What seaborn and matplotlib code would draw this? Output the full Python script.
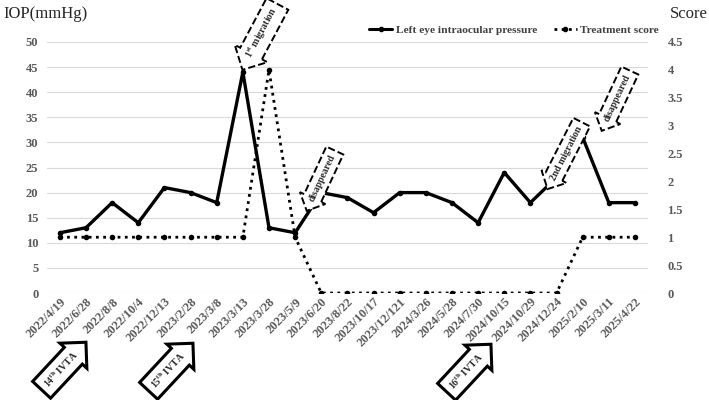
import numpy as np
import pandas as pd
import matplotlib
matplotlib.use("Agg")
import matplotlib.pyplot as plt
import seaborn as sns
from matplotlib.lines import Line2D

dates = ["2022/4/19", "2022/6/28", "2022/8/8", "2022/10/4", "2022/12/13", "2023/2/28",
         "2023/3/8", "2023/3/13", "2023/3/28", "2023/5/9", "2023/6/20", "2023/8/22",
         "2023/10/17", "2023/12/121", "2024/3/26", "2024/5/28", "2024/7/30", "2024/10/15",
         "2024/10/29", "2024/12/24", "2025/2/10", "2025/3/11", "2025/4/22"]
iop = [12, 13, 18, 14, 21, 20, 18, 44, 13, 12, 20, 19, 16, 20, 20, 18, 14, 24, 18, 23, 31, 18, 18]
score = [1, 1, 1, 1, 1, 1, 1, 1, 4, 1, 0, 0, 0, 0, 0, 0, 0, 0, 0, 0, 1, 1, 1]

df = pd.DataFrame({"idx": np.arange(len(dates)), "date": dates, "iop": iop, "score": score})

sns.set_theme(style="whitegrid")
plt.rcParams["font.family"] = ["Liberation Serif", "DejaVu Serif"]
plt.rcParams["mathtext.fontset"] = "stix"

fig = plt.figure(figsize=(7.09, 4.0), dpi=100)
ax = fig.add_axes([0.066, 0.2675, 0.848, 0.6275])
ax2 = ax.twinx()

sns.lineplot(data=df, x="idx", y="iop", ax=ax, color="black", lw=2.4,
             marker="o", markersize=4, markeredgewidth=0)
sns.lineplot(data=df, x="idx", y="score", ax=ax2, color="black", lw=2.0,
             linestyle=(0, (1, 1.6)), marker="o", markersize=4, markeredgewidth=0)

grey = "#595959"
ax.set_xlim(-0.5, len(dates) - 0.5)
ax.set_ylim(0, 50)
ax2.set_ylim(0, 4.5)
ax.set_yticks(np.arange(0, 51, 5))
ax2.set_yticks(np.arange(0, 4.6, 0.5))
ax2.set_yticklabels(["0", "0.5", "1", "1.5", "2", "2.5", "3", "3.5", "4", "4.5"])
ax.set_xticks(df["idx"])
ax.set_xticklabels(dates, rotation=45, ha="right", rotation_mode="anchor")
ax.grid(axis="x", visible=False)
ax.grid(axis="y", color="#d9d9d9", lw=0.8)
ax2.grid(False)
for a in (ax, ax2):
    a.set_xlabel("")
    a.set_ylabel("")
    for s in a.spines.values():
        s.set_visible(False)
    a.tick_params(axis="both", length=0, labelsize=9, labelcolor=grey, pad=4)
    for lab in a.get_xticklabels() + a.get_yticklabels():
        lab.set_fontweight("bold")
ax.tick_params(axis="x", pad=2)
ax.tick_params(axis="y", pad=6)
ax2.tick_params(axis="y", pad=14)

fig.text(0.005, 0.965, "IOP(mmHg)", fontsize=12, ha="left", va="center")
fig.text(0.998, 0.965, "Score", fontsize=12, ha="right", va="center")

handles = [Line2D([], [], color="black", lw=2.2, marker="o", markersize=3),
           Line2D([], [], color="black", lw=2.0, linestyle=(0, (1, 1.6)), marker="o", markersize=3)]
fig.legend(handles, ["Left eye intraocular pressure", "Treatment score"], ncol=2,
           loc="center", bbox_to_anchor=(0.725, 0.925), frameon=False,
           prop={"weight": "bold", "size": 8.2}, labelcolor="#404040",
           handlelength=2.0, columnspacing=1.5, handletextpad=0.3)

def px(x, y):
    return x / 709, 1 - y / 400

dashed = dict(fc="white", ec="black", ls="--", lw=1.4)
solid = dict(fc="white", ec="black", lw=2.2)
notes = [
    ("1$^{\\mathbf{st}}$ migration", 262, 33, 62, "larrow", dashed, 0.5),
    ("disappeared", 322, 178, 65, "larrow", dashed, 0.5),
    ("2nd migration", 566, 153, 63, "larrow", dashed, 0.5),
    ("disappeared", 617, 98, 65, "larrow", dashed, 0.5),
    ("14$^{\\mathbf{th}}$ IVTA", 61, 369, 47, "rarrow", solid, 0.6),
    ("15$^{\\mathbf{th}}$ IVTA", 168, 370, 47, "rarrow", solid, 0.6),
    ("16$^{\\mathbf{th}}$ IVTA", 466, 371, 47, "rarrow", solid, 0.6),
]
for txt, x, y, rot, style, kw, pad in notes:
    fx, fy = px(x, y)
    fig.text(fx, fy, txt, rotation=rot, ha="center", va="center", fontsize=7,
             fontweight="bold", rotation_mode="anchor",
             bbox=dict(boxstyle=f"{style},pad={pad}", **kw))

fig.savefig("out.png", dpi=100)
